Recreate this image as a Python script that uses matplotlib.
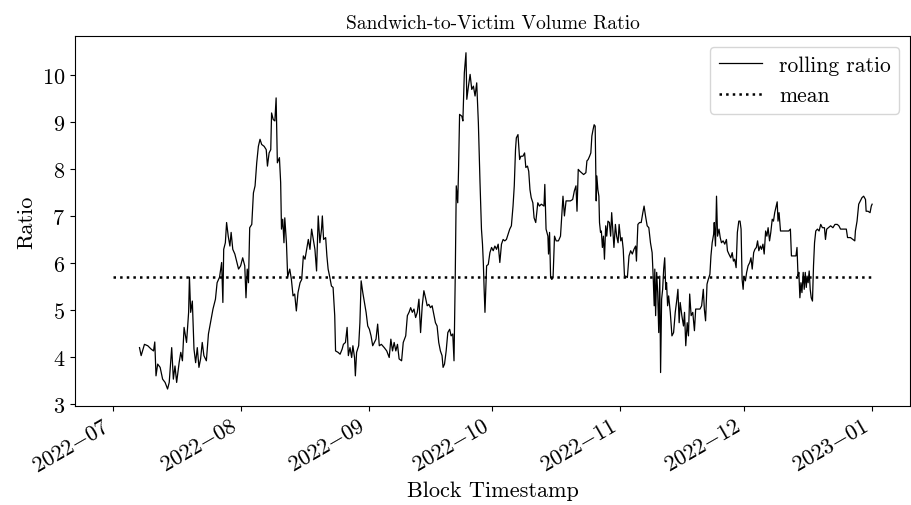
import matplotlib
matplotlib.use("Agg")
import matplotlib.pyplot as plt
import matplotlib.dates as mdates
import pandas as pd

# computer modern look
plt.rcParams['font.family'] = 'serif'
plt.rcParams['font.serif'] = ['cmr10']
plt.rcParams['mathtext.fontset'] = 'cm'
plt.rcParams['axes.formatter.use_mathtext'] = True

start = pd.Timestamp('2022-07-01')
end = pd.Timestamp('2023-01-01')
mean_ratio = 5.7

# days since 2022-07-01 and rolling ratio in pieces
days_1 = [6.5, 6.9, 7.7, 8.5, 9.3, 9.9, 10.2, 10.5, 10.9, 11.5,
          12.1, 12.7, 13.3, 13.7, 14.3, 14.7, 15.1, 15.5, 16.1, 16.5,
          16.9, 17.3, 17.9, 18.4, 18.6, 18.9, 19.3, 19.7, 20.1, 20.5,
          20.9, 21.3, 21.7, 22.1, 22.7, 23.2, 23.7, 24.3, 24.9, 25.3,
          25.9, 26.4, 26.7, 26.9, 27.3, 27.6, 28.0, 28.4, 28.7, 29.1,
          29.6, 30.1, 30.5, 31.0, 31.5, 32.0, 32.3, 32.6, 32.9, 33.2,
          33.7]
ratio_1 = [4.20, 4.03, 4.27, 4.24, 4.17, 4.13, 4.32, 3.60, 3.85, 3.78,
           3.53, 3.46, 3.32, 3.46, 4.20, 3.53, 3.81, 3.46, 3.88, 4.10,
           3.92, 4.63, 4.31, 4.95, 5.70, 4.95, 5.19, 4.17, 3.88, 4.20,
           3.78, 3.96, 4.31, 4.03, 3.92, 4.49, 4.73, 5.02, 5.23, 5.58,
           5.70, 6.01, 5.16, 6.29, 6.43, 6.86, 6.57, 6.36, 6.65, 6.29,
           6.19, 6.01, 5.87, 5.94, 6.11, 5.94, 5.26, 5.87, 5.58, 6.75,
           6.82]

days_2 = [34.1, 34.5, 34.9, 35.3, 35.7, 36.1, 36.7, 37.2, 37.5, 37.9,
          38.3, 38.5, 38.9, 39.3, 39.6, 39.9, 40.4, 40.7, 40.9, 41.2,
          41.5, 41.7, 42.1, 42.4, 42.9, 43.3, 43.7, 44.1, 44.5, 44.9,
          45.4, 45.8, 46.2, 46.6, 47.0, 47.4, 47.8, 48.2, 48.6, 49.0,
          49.4, 49.8, 50.2, 50.6, 50.8, 51.1, 51.6, 51.9, 52.2, 52.6,
          53.0, 53.4, 53.8, 54.0, 54.6, 55.1, 55.6, 55.9, 56.4, 56.8,
          57.1, 57.5, 57.9, 58.2, 58.6, 58.8, 59.1, 59.6, 59.9, 60.2,
          60.6, 61.0, 61.4, 61.8, 62.2, 62.6, 63.0, 63.4, 63.8]
ratio_2 = [7.49, 7.64, 8.13, 8.48, 8.63, 8.52, 8.48, 8.41, 8.06, 8.34,
           8.41, 9.19, 9.05, 9.02, 9.51, 8.13, 8.24, 7.71, 6.72, 6.93,
           6.43, 6.96, 6.43, 5.70, 5.87, 5.65, 5.30, 5.34, 4.98, 5.37,
           5.58, 5.65, 6.15, 6.08, 6.29, 6.50, 6.29, 6.72, 6.50, 6.29,
           5.83, 7.00, 6.43, 6.72, 7.00, 6.50, 6.54, 6.15, 5.87, 5.70,
           5.51, 5.48, 4.88, 4.13, 4.10, 4.06, 4.17, 4.27, 4.31, 4.63,
           4.03, 4.20, 3.99, 4.24, 3.99, 3.60, 4.10, 4.24, 4.73, 5.62,
           5.37, 5.16, 4.95, 4.66, 4.59, 4.45, 4.24, 4.31, 4.38]

days_3 = [64.2, 64.6, 65.1, 65.8, 66.4, 67.0, 67.4, 67.8, 68.2, 68.6,
          69.0, 69.4, 70.0, 70.4, 71.0, 71.4, 71.8, 72.2, 72.6, 73.0,
          73.4, 73.8, 74.2, 74.6, 75.0, 75.4, 75.8, 76.2, 76.6, 77.0,
          77.4, 77.8, 78.2, 78.6, 79.0, 79.4, 79.8, 80.05, 80.4, 80.8,
          81.2, 81.65, 82.0, 82.4, 82.7, 83.0, 83.25, 83.6, 83.8, 84.05,
          84.6, 84.85, 85.2, 85.6, 85.8, 86.2, 86.6, 87.0, 87.4, 87.8,
          88.2, 88.6, 89.0, 89.35, 89.6, 89.8, 90.0, 90.2, 90.6, 91.0,
          91.4, 91.8, 92.2, 92.6, 93.0, 93.4, 93.8]
ratio_3 = [4.70, 4.24, 4.27, 4.20, 4.13, 3.99, 4.38, 4.13, 4.31, 4.13,
           4.27, 3.96, 3.92, 4.31, 4.45, 4.88, 4.95, 5.05, 4.95, 5.02,
           4.84, 4.95, 5.23, 4.52, 5.09, 5.41, 5.26, 5.09, 5.12, 5.05,
           5.09, 4.91, 4.73, 4.66, 4.31, 4.13, 4.03, 3.78, 3.85, 4.13,
           4.52, 4.59, 4.45, 4.49, 3.92, 5.72, 7.64, 7.28, 7.99, 9.16,
           9.12, 9.02, 10.04, 10.47, 9.48, 9.76, 10.01, 9.69, 9.76, 9.55,
           9.83, 8.98, 7.71, 6.72, 6.40, 6.01, 5.44, 4.95, 5.94, 5.97,
           6.22, 6.33, 6.26, 6.36, 6.29, 6.40, 6.01]

days_4 = [94.2, 94.6, 95.0, 95.4, 95.8, 96.2, 96.6, 97.0, 97.3, 97.6,
          97.8, 98.2, 98.6, 98.9, 99.4, 99.8, 100.1, 100.5, 100.8, 101.1,
          101.4, 101.8, 102.1, 102.5, 103.0, 103.4, 103.85, 104.5, 104.7, 105.0,
          105.45, 105.6, 105.85, 106.1, 106.4, 106.7, 107.05, 107.45, 108.0, 108.5,
          108.8, 109.1, 109.45, 109.85, 110.25, 110.9, 111.45, 111.85, 112.25, 112.5,
          112.8, 113.2, 113.6, 114.1, 114.65, 114.9, 115.2, 115.55, 115.85, 116.1,
          116.4, 116.65, 116.9, 117.15, 117.3, 117.55, 117.8, 117.95, 118.2, 118.4,
          118.65, 118.9, 119.15, 119.45, 119.7, 120.0, 120.35, 120.65, 120.9, 121.2,
          121.45, 121.8, 122.1, 122.45, 122.7, 123.1, 123.4, 123.7, 124.0]
ratio_4 = [6.40, 6.50, 6.47, 6.50, 6.61, 6.72, 6.79, 7.21, 7.64, 8.41,
           8.66, 8.73, 8.20, 8.27, 8.27, 8.34, 8.03, 8.06, 7.95, 7.56,
           7.39, 7.28, 6.96, 6.86, 7.28, 7.21, 7.25, 7.21, 7.67, 6.72,
           6.57, 6.19, 6.65, 5.69, 5.65, 5.69, 6.57, 6.47, 6.47, 6.57,
           7.00, 7.42, 7.00, 7.32, 7.32, 7.32, 7.35, 7.53, 7.64, 7.10,
           7.99, 7.95, 7.92, 7.88, 7.92, 8.17, 8.20, 8.27, 8.34, 8.70,
           8.84, 8.94, 8.91, 7.32, 7.85, 7.56, 7.42, 6.86, 6.65, 6.68,
           6.33, 6.57, 6.08, 6.79, 6.57, 6.89, 6.86, 6.57, 7.07, 6.65,
           6.33, 6.82, 6.57, 6.43, 6.82, 6.47, 6.54, 6.29, 5.72]

days_5 = [124.3, 124.7, 125.1, 125.5, 125.9, 126.3, 126.7, 126.9, 127.25, 127.65,
          128.05, 128.45, 128.75, 129.1, 129.5, 129.9, 130.3, 130.7, 130.95, 131.2,
          131.35, 131.55, 131.8, 132.05, 132.3, 132.55, 132.75, 133.0, 133.25, 133.5,
          133.75, 134.0, 134.2, 134.45, 134.7, 135.1, 135.5, 135.9, 136.3, 136.7,
          136.95, 137.25, 137.5, 137.9, 138.3, 138.55, 138.85, 139.2, 139.5, 139.8,
          140.15, 140.55, 140.95, 141.25, 141.75, 142.3, 142.7, 143.1, 143.35, 143.65,
          144.0, 144.3, 144.7, 144.95, 145.25, 145.6, 145.75, 146.05, 146.3, 146.55,
          146.9, 147.2, 147.5, 147.9, 148.3, 148.7, 148.95, 149.3, 149.75, 150.1,
          150.4, 150.7, 151.05, 151.35, 151.7, 152.0, 152.25, 152.5, 152.75, 152.95,
          153.3, 153.6, 153.95]
ratio_5 = [5.72, 5.69, 6.15, 6.26, 6.19, 6.29, 6.36, 6.04, 6.82, 6.86,
           6.86, 7.07, 7.21, 7.00, 6.79, 6.75, 6.43, 6.22, 5.72, 5.09,
           5.87, 4.88, 5.80, 5.37, 4.52, 5.72, 3.67, 5.23, 5.44, 5.87,
           6.11, 5.44, 5.58, 5.09, 5.30, 4.95, 4.45, 4.52, 4.95, 5.23,
           5.44, 4.73, 5.16, 4.88, 4.66, 4.95, 4.24, 4.73, 4.45, 5.34,
           4.88, 4.95, 4.56, 5.02, 5.02, 5.02, 5.09, 5.44, 5.02, 4.77,
           5.55, 5.65, 5.76, 6.15, 6.43, 6.61, 6.86, 6.36, 7.42, 6.57,
           6.72, 6.54, 6.43, 6.47, 6.40, 6.50, 6.26, 6.19, 6.11, 6.22,
           6.04, 6.08, 5.90, 6.65, 6.89, 6.89, 6.72, 5.65, 5.44, 5.72,
           5.62, 5.80, 5.94]

days_6 = [154.35, 154.65, 154.95, 155.3, 155.6, 155.95, 156.25, 156.55, 156.9, 157.2,
          157.55, 157.85, 158.2, 158.5, 158.8, 159.15, 159.45, 159.8, 160.1, 160.4,
          160.75, 161.0, 161.2, 161.45, 161.8, 162.35, 163.15, 163.8, 164.2, 164.45,
          165.15, 165.55, 165.8, 166.05, 166.25, 166.5, 166.75, 167.0, 167.3, 167.55,
          167.8, 168.05, 168.25, 168.5, 168.75, 169.0, 169.25, 169.55, 169.8, 170.05,
          170.35, 170.75, 171.15, 171.55, 171.95, 172.45, 172.7, 173.0, 173.4, 173.95,
          174.5, 175.0, 175.55, 175.95, 176.35, 176.95, 177.75, 178.05, 178.75, 179.35,
          179.8, 179.95, 180.35, 180.75, 181.15, 181.55, 181.95, 182.4, 182.55, 183.0,
          183.5, 183.8, 184.0]
ratio_6 = [6.01, 6.11, 5.87, 6.22, 6.29, 6.33, 6.47, 6.26, 6.36, 6.29,
           6.40, 6.19, 6.68, 6.57, 6.75, 6.47, 6.65, 6.93, 6.89, 7.07,
           7.21, 7.30, 6.89, 7.07, 6.68, 6.68, 6.68, 6.68, 6.72, 6.15,
           6.15, 6.15, 6.33, 5.72, 5.80, 5.26, 5.58, 5.37, 5.80, 5.44,
           5.80, 5.48, 5.72, 5.58, 5.83, 5.44, 5.26, 5.19, 5.94, 6.43,
           6.68, 6.72, 6.68, 6.82, 6.75, 6.75, 6.50, 6.72, 6.75, 6.79,
           6.75, 6.82, 6.82, 6.79, 6.72, 6.72, 6.72, 6.54, 6.54, 6.50,
           6.47, 6.68, 6.89, 7.25, 7.32, 7.39, 7.42, 7.35, 7.10, 7.10,
           7.07, 7.21, 7.25]

days = days_1 + days_2 + days_3 + days_4 + days_5 + days_6
ratio = ratio_1 + ratio_2 + ratio_3 + ratio_4 + ratio_5 + ratio_6
df = pd.DataFrame({'day': days, 'ratio': ratio})
df['ts'] = start + pd.to_timedelta(df['day'], unit='D')

fig, ax = plt.subplots(figsize=(9.11, 5.06), dpi=100)
ax.plot(df['ts'], df['ratio'], color='black', linewidth=0.9, label='rolling ratio')
ax.hlines(mean_ratio, start, end, colors='black', linestyles=':', linewidth=1.8, label='mean')

ax.set_title('Sandwich-to-Victim Volume Ratio', fontsize=14)
ax.set_xlabel('Block Timestamp', fontsize=16)
ax.set_ylabel('Ratio', fontsize=16)
ax.xaxis.set_major_locator(mdates.MonthLocator())
ax.xaxis.set_major_formatter(mdates.DateFormatter(r'$%Y{-}%m$'))
ax.tick_params(labelsize=16)
plt.setp(ax.get_xticklabels(), rotation=30, ha='right')
ax.legend(loc='upper right', fontsize=15.5)

plt.subplots_adjust(left=0.082, right=0.999, top=0.927, bottom=0.196)
plt.savefig('out.png', dpi=100)
